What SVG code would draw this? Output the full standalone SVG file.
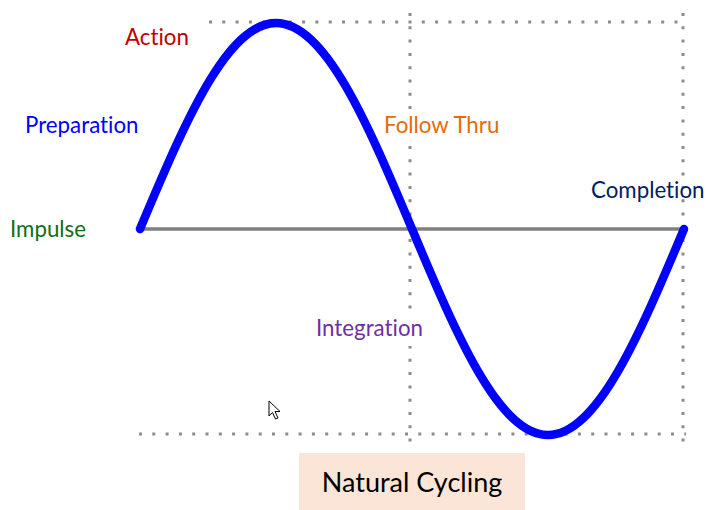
<svg xmlns="http://www.w3.org/2000/svg" width="707" height="510" viewBox="0 0 707 510">
<style>
.dot{stroke:#8c8c8c;stroke-width:3;stroke-dasharray:3 10.3;fill:none}
.lbl{font-family:Lato,"Open Sans","Liberation Sans",sans-serif;font-size:22.3px;font-variant-ligatures:none;font-feature-settings:"liga" 0,"clig" 0,"dlig" 0,"calt" 0}
.bg{fill:#fff}
</style>
<rect width="707" height="510" fill="#fff"/>
<g id="grid">
<line class="dot" x1="209" y1="22" x2="686" y2="22"/>
<line class="dot" x1="139" y1="434" x2="686" y2="434"/>
<line class="dot" x1="410" y1="13" x2="410" y2="442"/>
<line class="dot" x1="683" y1="13" x2="683" y2="442"/>
</g>
<g id="action"><text class="lbl" x="125" y="45" fill="#c00000">Action</text></g>
<g id="preparation"><text class="lbl" x="25" y="133" fill="#0000ff">Preparation</text></g>
<g id="impulse"><text class="lbl" x="10" y="237" fill="#127012">Impulse</text></g>
<g id="follow"><rect class="bg" x="380" y="110" width="122" height="34"/><text class="lbl" x="384" y="133" fill="#e46c0a">Follow Thru</text></g>
<g id="completion"><text class="lbl" x="591" y="198" fill="#002060">Completion</text></g>
<g id="integration"><rect class="bg" x="312" y="316" width="116" height="30"/><text class="lbl" x="316" y="336" fill="#7030a0">Integration</text></g>
<g id="connectors">
<line x1="140" y1="229" x2="684" y2="229" stroke="#808080" stroke-width="3.5"/>
<path d="M140,229 C184.35,123.5 226.78,23 276,23 C325.22,23 367.65,123.5 412,229 C456.35,334.5 498.78,435 548,435 C597.22,435 639.65,334.5 684,229" fill="none" stroke="#0000ff" stroke-width="8.5" stroke-linecap="round" stroke-linejoin="round"/>
</g>
<g id="title">
<rect x="299" y="453" width="226" height="57" fill="#fbe5d6"/>
<text x="412" y="492" text-anchor="middle" font-family="Lato,'Open Sans','Liberation Sans',sans-serif" font-size="27" fill="#000">Natural Cycling</text>
</g>
<path d="M269,401 L269,416 L272.5,412.5 L275.5,419 L278,418 L275,411.5 L280,411.5 Z" fill="#fff" stroke="#000" stroke-width="1" stroke-linejoin="round"/>
</svg>
